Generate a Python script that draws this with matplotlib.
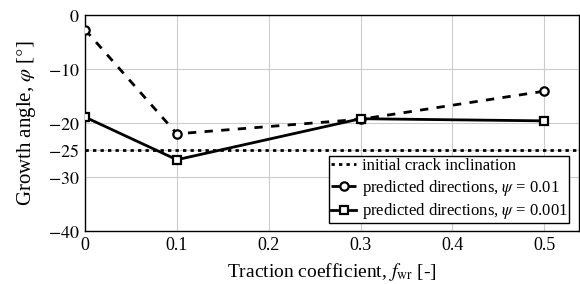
import matplotlib
matplotlib.use("Agg")
import matplotlib.pyplot as plt

plt.rcParams['font.family'] = ['Liberation Serif', 'DejaVu Serif']
plt.rcParams['mathtext.fontset'] = 'stix'

x_vals = [0.0, 0.1, 0.3, 0.5]
psi_001 = [-2.7, -22.0, -19.3, -14.1]
psi_0001 = [-18.9, -26.8, -19.2, -19.6]
initial_incl = -25
x_ticks = [0, 0.1, 0.2, 0.3, 0.4, 0.5]
x_tick_labels = ['0', '0.1', '0.2', '0.3', '0.4', '0.5']
y_ticks = [0, -10, -20, -25, -30, -40]
y_tick_labels = [r'$0$', r'$-10$', r'$-20$', r'$-25$', r'$-30$', r'$-40$']

fig = plt.figure(figsize=(5.8, 2.84), dpi=100)
ax = fig.add_axes([0.1466, 0.1866, 0.852, 0.7604])

ax.axhline(initial_incl, color='black', linestyle=(0, (1.2, 1.5)), linewidth=2,
           label='initial crack inclination', zorder=3)
ax.plot(x_vals, psi_001, color='black', linestyle=(0, (3, 3)), linewidth=2,
        marker='o', markersize=6, markerfacecolor='white', markeredgewidth=1.6,
        label='predicted directions, $\\psi$ = 0.01', zorder=4)
ax.plot(x_vals, psi_0001, color='black', linestyle='-', linewidth=2,
        marker='s', markersize=6, markerfacecolor='white', markeredgewidth=1.6,
        label='predicted directions, $\\psi$ = 0.001', zorder=4)

ax.set_xlim(0, 0.538)
ax.set_ylim(-40, 0)
ax.set_xticks(x_ticks)
ax.set_xticklabels(x_tick_labels)
ax.set_yticks(y_ticks)
ax.set_yticklabels(y_tick_labels)
ax.grid(True, color='#cccccc', linewidth=0.8, zorder=0)
ax.set_axisbelow(True)
ax.tick_params(axis='x', length=0, labelsize=13, pad=4)
ax.tick_params(axis='y', length=0, labelsize=13, pad=4)
for s in ax.spines.values():
    s.set_linewidth(1.0)

ax.set_xlabel(r'Traction coefficient, $f_{\mathrm{wr}}$ [-]', fontsize=14, labelpad=5)
ax.set_ylabel(r'Growth angle, $\varphi$ [$\degree$]', fontsize=15, labelpad=7)

leg = ax.legend(loc='lower right', fontsize=12, frameon=True, fancybox=False,
                edgecolor='black', framealpha=1, handlelength=1.5,
                borderpad=0.1, labelspacing=0.22, handletextpad=0.35,
                borderaxespad=0, bbox_to_anchor=(0.98, 0.037))
leg.get_frame().set_linewidth(1.0)

fig.savefig('out.png', dpi=100)
